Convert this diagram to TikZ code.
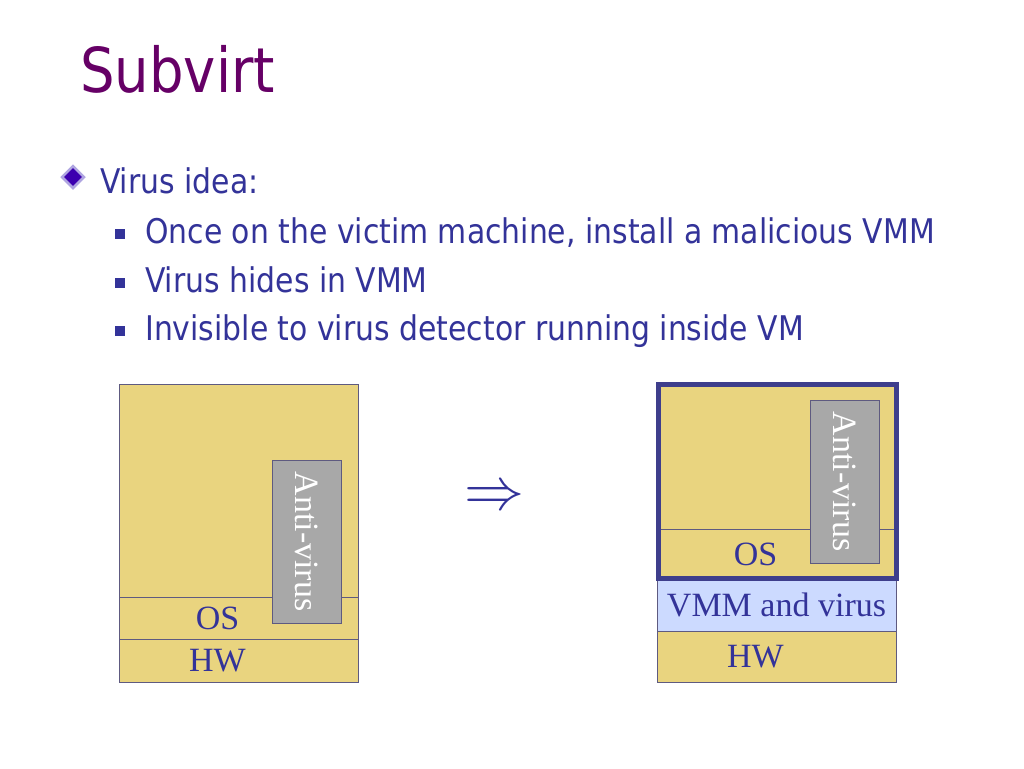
\documentclass[tikz,border=0pt]{standalone}
\usepackage{fontspec}
\usepackage{amsmath}
\newfontfamily\slidefont[FakeStretch=0.878]{DejaVu Sans}
\newfontfamily\boxfont{Liberation Serif}
\usetikzlibrary{shapes.geometric}
\definecolor{titlepurple}{RGB}{102,0,102}
\definecolor{textblue}{RGB}{51,51,153}
\definecolor{boxyellow}{RGB}{233,212,127}
\definecolor{edgegray}{RGB}{94,90,128}
\definecolor{avgray}{RGB}{168,168,168}
\definecolor{vmmblue}{RGB}{204,218,255}
\definecolor{framblue}{RGB}{62,62,140}
\definecolor{diamondfill}{RGB}{60,0,175}
\definecolor{diamondrim}{RGB}{175,165,225}
\tikzset{
  layer/.style={draw=edgegray,fill=boxyellow,line width=1pt,minimum width=239pt,inner sep=0pt,
    text=textblue,font=\boxfont\fontsize{34}{34}\selectfont},
  tag/.style={label={[xshift=-21pt,text=textblue,font=\boxfont\fontsize{34}{34}\selectfont]center:#1}},
  avbox/.style={draw=edgegray,fill=avgray,line width=1pt,inner sep=0pt,rotate=-90,
    text=white,font=\boxfont\fontsize{34}{34}\selectfont},
  item/.style={anchor=base west,inner sep=0pt,text=textblue,font=\slidefont\fontsize{34}{34}\selectfont},
  sqbullet/.style={fill=textblue,minimum size=10pt,inner sep=0pt},
}
\begin{document}
\begin{tikzpicture}[x=1pt,y=-1pt]
\useasboundingbox[fill=white](0,0)rectangle(1024,768);
\node[anchor=base west,inner sep=0pt,text=titlepurple,font=\slidefont\fontsize{62}{62}\selectfont](title)at(80,92){Subvirt};
\node[diamond,aspect=1,minimum size=23pt,inner sep=0pt,fill=diamondfill,draw=diamondrim,line width=2.5pt](dia)at(73,177){};
\node[item](idea)at(100,193){Virus idea:};
\foreach \y/\t [count=\i] in {243/{Once on the victim machine, install a malicious VMM},292/{Virus hides in VMM},340/{Invisible to virus detector running inside VM}}{
  \node[sqbullet](sq\i)at(120,\y-9){};
  \node[item](it\i)at(145,\y){\t};
}
% before
\node[layer,minimum height=213pt](appA)at(238.5,490.5){};
\node[layer,minimum height=42pt,tag=OS](osA)at(238.5,618){};
\node[layer,minimum height=43pt,tag=HW](hwA)at(238.5,661){};
\node[avbox,minimum width=163pt,minimum height=69pt](avA)at(306.5,541.5){Anti-virus};
% arrow
\node[inner sep=0pt,text=textblue](imp)at(494,498){\scalebox{6}{$\Rightarrow$}};
% after
\node[layer,minimum height=145pt](appB)at(776.5,456.5){};
\node[layer,minimum height=50pt,tag=OS](osB)at(776.5,554){};
\node[layer,minimum height=52pt,fill=vmmblue](vmmB)at(776.5,605){VMM and virus};
\node[layer,minimum height=51pt,tag=HW](hwB)at(776.5,656.5){};
\node[avbox,minimum width=163pt,minimum height=69pt](avB)at(844.5,481.5){Anti-virus};
\node[draw=framblue,line width=5pt,minimum width=238pt,minimum height=194pt,inner sep=0pt](vmB)at(777,481){};
\end{tikzpicture}
\end{document}
